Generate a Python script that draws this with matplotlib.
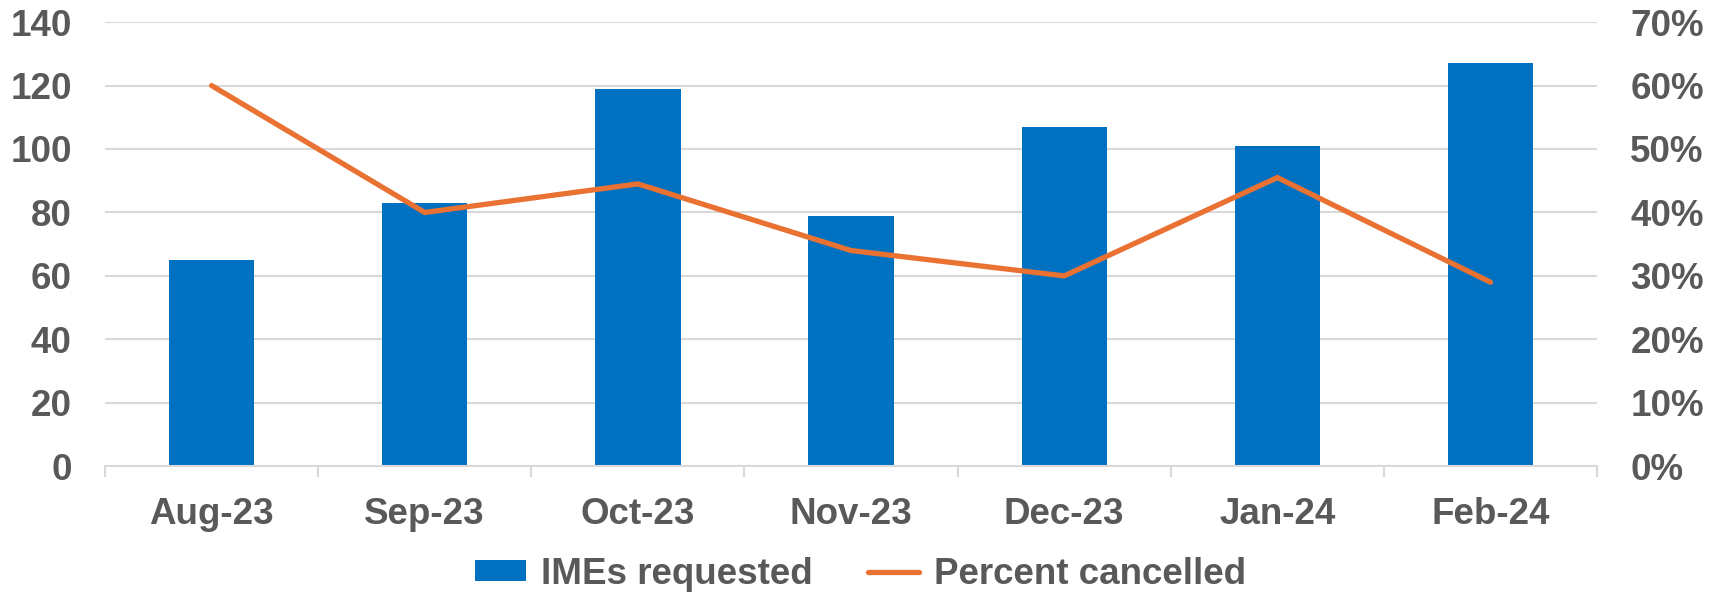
import numpy as np
import matplotlib.pyplot as plt
from matplotlib.ticker import FuncFormatter, FixedLocator

plt.rcParams['font.family'] = ['Liberation Sans', 'DejaVu Sans']

months = ['Aug-23', 'Sep-23', 'Oct-23', 'Nov-23', 'Dec-23', 'Jan-24', 'Feb-24']
imes_requested = [65, 83, 119, 79, 107, 101, 127]
pct_cancelled = [0.60, 0.40, 0.445, 0.34, 0.30, 0.455, 0.29]

blue = '#0070C0'
orange = '#E97132'
grey_txt = '#595959'
grid_c = '#D9D9D9'
fs = 26.5

fig = plt.figure(figsize=(17.21, 5.97), dpi=100)
ax = fig.add_axes([0.061, 0.219, 0.867, 0.744])
ax2 = ax.twinx()

x = np.arange(len(months))
bars = ax.bar(x, imes_requested, width=0.4, color=blue, zorder=2, label='IMEs requested')
line, = ax2.plot(x, pct_cancelled, color=orange, lw=3.8, solid_capstyle='round',
                 solid_joinstyle='miter', label='Percent cancelled', zorder=3)

ax.set_xlim(-0.5, len(months) - 0.5)
ax.set_ylim(0, 140)
ax.set_yticks(np.arange(0, 141, 20))
ax2.set_ylim(0, 0.70)
ax2.set_yticks(np.arange(0, 0.71, 0.1))
ax2.yaxis.set_major_formatter(FuncFormatter(lambda v, p: f'{v*100:.0f}%'))

ax.grid(axis='y', color=grid_c, lw=1.5, zorder=0)
ax.set_axisbelow(True)
for a in (ax, ax2):
    for s in ['top', 'left', 'right']:
        a.spines[s].set_visible(False)
ax2.spines['bottom'].set_visible(False)
ax.spines['bottom'].set_color(grid_c)
ax.spines['bottom'].set_linewidth(1.5)

ax.set_xticks(x)
ax.set_xticklabels(months)
ax.xaxis.set_minor_locator(FixedLocator(np.arange(-0.5, len(months), 1.0)))
ax.tick_params(axis='x', which='major', length=0, pad=22, labelsize=fs, labelcolor=grey_txt)
ax.tick_params(axis='x', which='minor', length=8, width=1.5, color=grid_c, direction='out')
ax.tick_params(axis='y', length=0, pad=24, labelsize=fs, labelcolor=grey_txt)
ax2.tick_params(axis='y', length=0, pad=24, labelsize=fs, labelcolor=grey_txt)
for lab in ax.get_xticklabels() + ax.get_yticklabels() + ax2.get_yticklabels():
    lab.set_fontweight('bold')

leg = fig.legend([bars, line], ['IMEs requested', 'Percent cancelled'], loc='center',
                 bbox_to_anchor=(0.5, 0.038), ncol=2, frameon=False,
                 prop={'size': fs, 'weight': 'bold'}, handlelength=1.4, handleheight=0.5,
                 handletextpad=0.4, columnspacing=1.5)
for t in leg.get_texts():
    t.set_color(grey_txt)

fig.savefig('out.png', dpi=100)
